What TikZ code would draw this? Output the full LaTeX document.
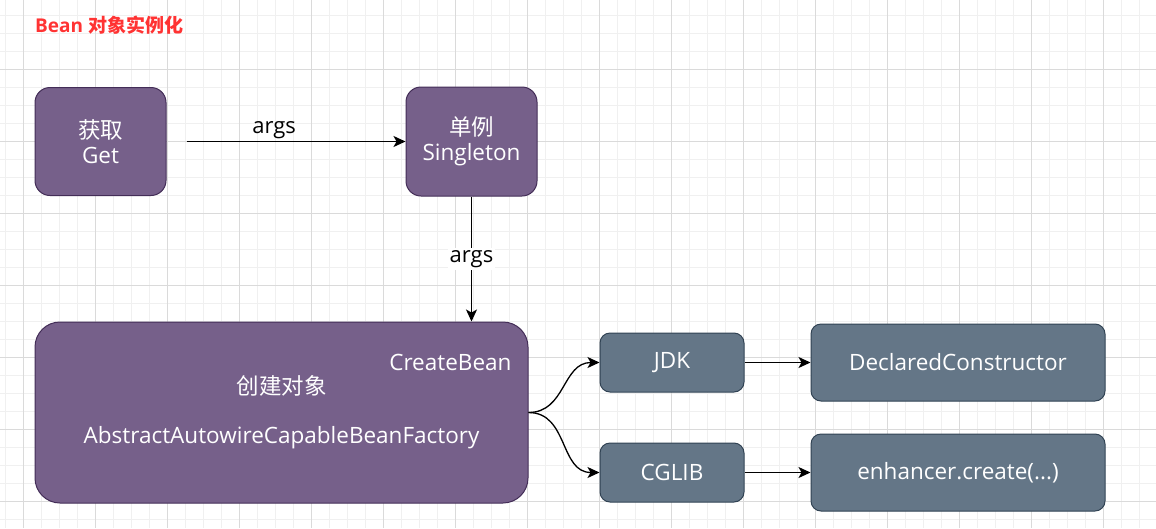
\documentclass[tikz,border=0pt]{standalone}
\usepackage{fontspec}
\setmainfont{Open Sans}
\newfontfamily\cjk{Noto Sans CJK SC}
\usetikzlibrary{arrows.meta}
\definecolor{boxpurple}{HTML}{76608A}
\definecolor{edgepurple}{HTML}{432D57}
\definecolor{boxgrey}{HTML}{647687}
\definecolor{edgegrey}{HTML}{314354}
\definecolor{titlered}{HTML}{FF3333}
\definecolor{minorgrid}{HTML}{F0F0F0}
\definecolor{majorgrid}{HTML}{DADADA}
\tikzset{
  purplebox/.style={draw=edgepurple, fill=boxpurple, text=white, line width=1pt,
    rounded corners=15pt, align=center, font=\fontsize{22.5}{25}\selectfont},
  greybox/.style={draw=edgegrey, fill=boxgrey, text=white, line width=1pt,
    rounded corners=10pt, align=center, font=\fontsize{22.5}{25}\selectfont},
  flow/.style={line width=1.3pt, -{Stealth[length=12pt,width=11pt,inset=3pt]}},
  edgelabel/.style={font=\fontsize{22}{25}\selectfont, inner sep=2pt}
}

\begin{document}
\begin{tikzpicture}[x=1pt, y=-1pt]
        \useasboundingbox (0,0) rectangle (1156,528);
        \fill[white] (0,0) rectangle (1156,528);
        \foreach \x in {5,23,...,1155} \draw[minorgrid] (\x,0) -- (\x,528);
        \foreach \y in {15,33,...,527} \draw[minorgrid] (0,\y) -- (1156,\y);
        \foreach \x in {23,95,...,1155} \draw[majorgrid] (\x,0) -- (\x,528);
        \foreach \y in {69,141,...,527} \draw[majorgrid] (0,\y) -- (1156,\y);

        \node[anchor=west, text=titlered, font=\bfseries\fontsize{19}{22}\selectfont, inner sep=0pt] (title) at (35,25) {Bean {\cjk\bfseries 对象实例化}};

        \node[purplebox, minimum width=131pt, minimum height=108pt] (get) at (100.5,141.5) {{\cjk 获取}\\Get};
        \node[purplebox, minimum width=131pt, minimum height=109pt] (singleton) at (471.5,141.5) {{\cjk 单例}\\Singleton};
        \node[purplebox, rounded corners=25pt, minimum width=493pt, minimum height=181pt] (create) at (281.5,412.5) {{\cjk 创建对象}\\[24pt]AbstractAutowireCapableBeanFactory};
        \node[text=white, font=\fontsize{22.5}{25}\selectfont, anchor=east] (createname) at (515,362) {CreateBean};

        \node[greybox, minimum width=144pt, minimum height=59pt] (jdk) at (672,362.5) {JDK};
        \node[greybox, minimum width=144pt, minimum height=59pt] (cglib) at (672,472.5) {CGLIB};
        \node[greybox, minimum width=294pt, minimum height=77pt] (declared) at (958,362.5) {DeclaredConstructor};
        \node[greybox, minimum width=294pt, minimum height=77pt] (enhancer) at (958,472.5) {enhancer.create(...)};

        \draw[flow] ([xshift=20pt]get.east) -- node[edgelabel, pos=0.4, above] {args} (singleton.west);
        \draw[flow] (singleton.south) -- node[edgelabel, fill=white] {args} (create.north -| singleton.south);
        \draw[flow] (create.east) to[out=0, in=180, looseness=1.1] (jdk.west);
        \draw[flow] (create.east) to[out=0, in=180, looseness=1.1] (cglib.west);
        \draw[flow] (jdk.east) -- (declared.west);
        \draw[flow] (cglib.east) -- (enhancer.west);
    \end{tikzpicture}
\end{document}
